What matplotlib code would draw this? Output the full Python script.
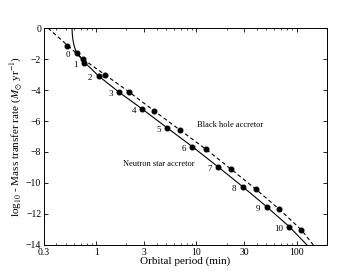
import matplotlib
matplotlib.use("Agg")
import matplotlib.pyplot as plt
from matplotlib.ticker import FixedLocator, LogLocator, NullFormatter

plt.rcParams['font.family'] = ['Liberation Serif', 'DejaVu Serif']
plt.rcParams['mathtext.fontset'] = 'stix'

# simulated systems (period in min, log10 mass transfer rate)
ns_period = [0.637, 0.758, 1.056, 1.68, 2.88, 5.05, 9.13, 16.4, 29.0, 50.3, 84.7]
ns_rate = [-1.59, -2.24, -3.10, -4.13, -5.23, -6.42, -7.66, -8.95, -10.24, -11.53, -12.82]
bh_period = [0.506, 0.741, 1.22, 2.13, 3.79, 6.85, 12.5, 22.3, 39.4, 67.3, 112]
bh_rate = [-1.16, -2.02, -3.01, -4.13, -5.35, -6.58, -7.83, -9.12, -10.41, -11.70, -13.03]
point_labels = [str(i) for i in range(11)]

# analytic tracks
ns_line_p = [0.569, 0.572, 0.577, 0.585, 0.598, 0.620, 0.641, 0.687, 0.753, 0.865,
             1.056, 1.68, 2.88, 5.05, 9.13, 16.4, 29.0, 50.3, 84.7, 127]
ns_line_r = [0.5, 0.0, -0.45, -0.77, -1.10, -1.42, -1.65, -1.87, -2.19, -2.55,
             -3.10, -4.13, -5.23, -6.42, -7.66, -8.95, -10.24, -11.53, -12.82, -14.0]
bh_line_p = [0.329, 0.741, 1.22, 2.13, 3.79, 6.85, 12.5, 22.3, 39.4, 67.3, 112, 147]
bh_line_r = [0.0, -2.02, -3.01, -4.13, -5.35, -6.58, -7.83, -9.12, -10.41, -11.70, -13.03, -14.0]

xticks = [0.3, 1, 3, 10, 30, 100]
xticklabels = ['0.3', '1', '3', '10', '30', '100']
yticks = [0, -2, -4, -6, -8, -10, -12, -14]

fig = plt.figure(figsize=(3.63, 2.73), dpi=100)
ax = fig.add_axes([0.121, 0.1026, 0.779, 0.7948])

ax.plot(ns_line_p, ns_line_r, color='black', lw=0.8)
ax.plot(bh_line_p, bh_line_r, color='black', lw=0.8, ls=(0, (3.5, 2.5)))
ax.plot(ns_period, ns_rate, 'o', color='black', ms=3.3)
ax.plot(bh_period, bh_rate, 'o', color='black', ms=3.3)

for p, r, lab in zip(ns_period, ns_rate, point_labels):
    ax.annotate(lab, (p, r), xytext=(-4.5, -1.5), textcoords='offset points',
                ha='right', va='center', fontsize=6.5)

ax.text(10.1, -6.26, 'Black hole accretor', fontsize=6, va='center')
ax.text(1.86, -8.79, 'Neutron star accretor', fontsize=6, va='center')

ax.set_xscale('log')
ax.set_xlim(0.3, 200)
ax.set_ylim(-14, 0)
ax.xaxis.set_major_locator(FixedLocator(xticks))
ax.set_xticklabels(xticklabels)
ax.xaxis.set_minor_locator(LogLocator(base=10, subs=range(2, 10)))
ax.xaxis.set_minor_formatter(NullFormatter())
ax.set_yticks(yticks)
ax.tick_params(which='both', direction='in', top=True, right=True, labelsize=7, pad=2)
ax.tick_params(which='major', length=3, width=0.6)
ax.tick_params(which='minor', length=1.5, width=0.5)
for s in ax.spines.values():
    s.set_linewidth(0.7)

ax.set_xlabel('Orbital period (min)', fontsize=8, labelpad=0)
ax.set_ylabel(r'log$_{10}$ - Mass transfer rate ($M_{\odot}$ yr$^{-1}$)', fontsize=8, labelpad=1)

fig.savefig('out.png', dpi=100)
